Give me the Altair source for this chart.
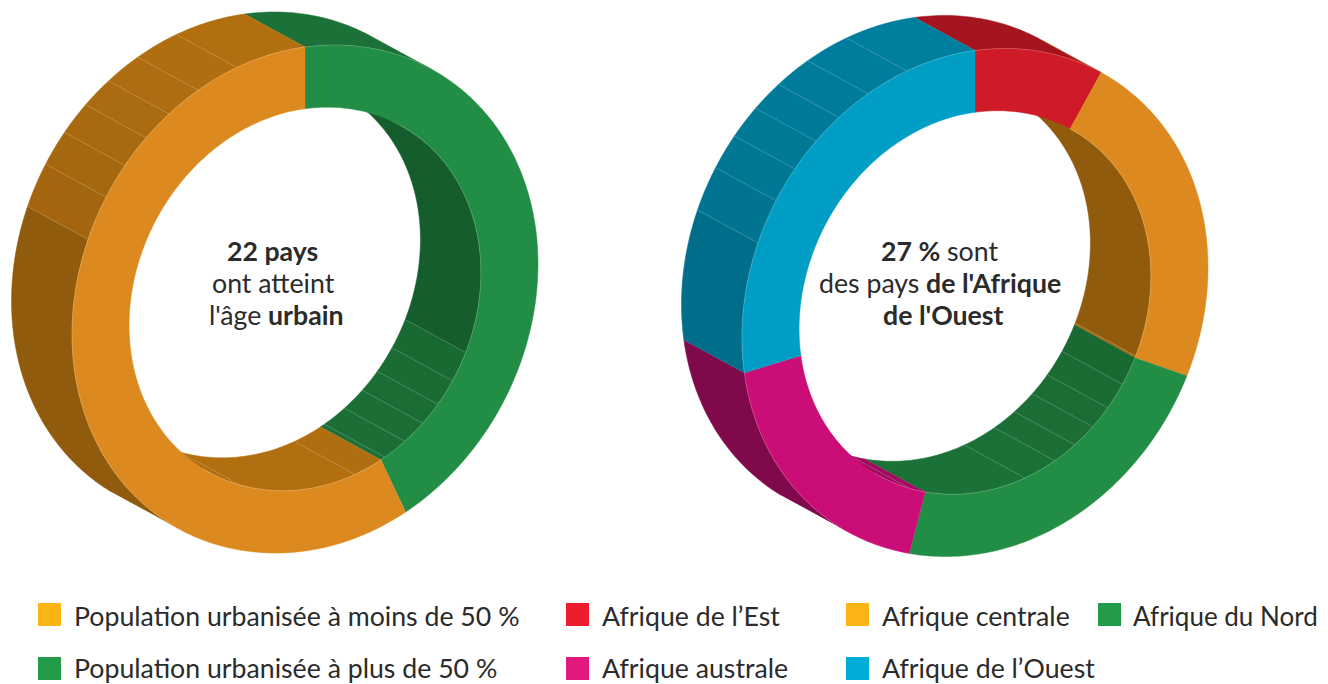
import numpy as np
import pandas as pd
import altair as alt

alt.data_transformers.disable_max_rows()

# ---- data ----
left_labels = ["Population urbanisée à plus de 50 %", "Population urbanisée à moins de 50 %"]
left_values = [22, 29.3]
left_colors = ["#228D45", "#DC8A1F"]
left_walls = ["#228D45", "#DC8A14"]

right_labels = ["Afrique de l’Est", "Afrique centrale", "Afrique du Nord", "Afrique australe", "Afrique de l’Ouest"]
right_values = [2, 5, 5, 4, 6]
right_colors = ["#CF1A27", "#DC8A1F", "#228D45", "#CB0E77", "#009DC4"]
right_walls = ["#CF1A27", "#DC8A14", "#228D45", "#CB0E77", "#009DC4"]

legend_labels = ["Population urbanisée à moins de 50 %", "Population urbanisée à plus de 50 %",
                 "Afrique de l’Est", "Afrique australe", "Afrique centrale", "Afrique de l’Ouest", "Afrique du Nord"]
legend_colors = ["#FDB515", "#239B48", "#ED1C2E", "#E3187F", "#FDB515", "#00ACD8", "#239B48"]
legend_col = [38, 38, 566, 566, 846, 846, 1098]
legend_row = [603, 657, 603, 657, 603, 657, 603]
legend_text_x = [74, 74, 602, 602, 882, 882, 1133]
legend_text_y = [626, 678, 626, 678, 626, 678, 626]
legend_font = [26.7, 26.7, 26.7, 26.7, 26.7, 26.7, 26.0]

center_bold = ["22 pays", "urbain", "27 %", "de l'Afrique", "de l'Ouest"]
center_bold_x = [227, 268, 881, 926, 883]
center_bold_y = [261, 325, 261, 293, 325]
center_light = ["ont atteint", "l'âge", "sont", "des pays"]
center_light_x = [212, 209, 947, 819]
center_light_y = [293, 325, 261, 293]

# ---- geometry of the tilted ring (pixels) ----
AX, QX, QB, RX = 233.0, -31.5, -3.5, 252.0   # map of the unit circle, with a small curve correction
INNER = 0.755
OFFSET = (-60.5, -33.0)
CENTERS = [(305.0, 299.0), (975.0, 302.5)]
TANGENT_A, TANGENT_B = 33.0, 215.0
OUTER_LINES = [-68.6, -58.6, -50.6, -43.0, -35.7, -27.3, -17.0]
INNER_LINES = [114.0, 123.0, 131.0, 138.0, 145.4, 153.0, 163.5, 201.7]


def pt(c, deg, k=1.0, back=False):
    t = np.radians(deg)
    s = np.sin(t)
    x = c[0] + k * AX * s
    y = c[1] + k * (QX * s + QB * s * abs(s) - RX * np.cos(t))
    if back:
        x, y = x + OFFSET[0], y + OFFSET[1]
    return x, y


def arc(a, b, step=1.0):
    n = max(2, int(abs(b - a) / step) + 1)
    return np.linspace(a, b, n)


def shade(hex_color, phi):
    f = 0.69 + 0.115 * np.cos(np.radians(phi))
    rgb = [int(hex_color[i:i + 2], 16) for i in (1, 3, 5)]
    return "#%02x%02x%02x" % tuple(int(round(v * f)) for v in rgb)


faces, walls_out, walls_in, lines, rims = [], [], [], [], []
pid = 0


def add_poly(store, pts, color):
    global pid
    pid += 1
    for i, (x, y) in enumerate(pts):
        store.append(dict(id=pid, i=i, x=x, y=y, c=color))


def build(c, values, colors, wall_colors):
    global pid
    total = sum(values)
    edges = np.concatenate([[0], np.cumsum(values) / total * 360.0])
    for s in range(len(values)):
        a, b = edges[s], edges[s + 1]
        ang = arc(a, b)
        add_poly(faces, [pt(c, d) for d in ang] + [pt(c, d, INNER) for d in ang[::-1]], colors[s])
        for off in (-360, 0, 360):
            lo, hi = max(a + off, TANGENT_B - 360), min(b + off, TANGENT_A)
            if hi > lo:
                brk = sorted({lo, hi, *[v for v in OUTER_LINES if lo < v < hi]})
                for p, q in zip(brk[:-1], brk[1:]):
                    d = arc(p, q)
                    add_poly(walls_out, [pt(c, v) for v in d] + [pt(c, v, back=True) for v in d[::-1]],
                             shade(wall_colors[s], (p + q) / 2))
        lo, hi = max(a, TANGENT_A), min(b, TANGENT_B)
        if hi > lo:
            brk = sorted({lo, hi, *[v for v in INNER_LINES if lo < v < hi]})
            for p, q in zip(brk[:-1], brk[1:]):
                d = arc(p, q)
                add_poly(walls_in, [pt(c, v, INNER) for v in d] + [pt(c, v, INNER, back=True) for v in d[::-1]],
                         shade(wall_colors[s], (p + q) / 2 + 180))
    for v in OUTER_LINES:
        pid += 1
        for i, b in enumerate((False, True)):
            x, y = pt(c, v, back=b)
            lines.append(dict(id=pid, i=i, x=x, y=y))
    for v in INNER_LINES:
        pid += 1
        for i, b in enumerate((False, True)):
            x, y = pt(c, v, INNER, back=b)
            lines.append(dict(id=pid, i=i, x=x, y=y))
    for k, (p, q) in ((1.0, (TANGENT_B, 360 + TANGENT_A)), (INNER, (TANGENT_A, TANGENT_B))):
        pid += 1
        for i, v in enumerate(arc(p, q)):
            x, y = pt(c, v, k)
            rims.append(dict(id=pid, i=i, x=x, y=y))


build(CENTERS[0], left_values, left_colors, left_walls)
build(CENTERS[1], right_values, right_colors, right_walls)

X = alt.X("x:Q", scale=alt.Scale(domain=[8, 1320]), axis=None)
Y = alt.Y("y:Q", scale=alt.Scale(domain=[684, 8]), axis=None)


def poly_layer(rows):
    return alt.Chart(pd.DataFrame(rows)).mark_line(strokeWidth=0.5, interpolate="linear", clip=False).encode(
        x=X, y=Y, detail="id:N", order="i:Q",
        fill=alt.Fill("c:N", scale=None), stroke=alt.Stroke("c:N", scale=None))


def thin_layer(rows, opacity, width):
    return alt.Chart(pd.DataFrame(rows)).mark_line(color="#ffffff", strokeOpacity=opacity, strokeWidth=width).encode(
        x=X, y=Y, detail="id:N", order="i:Q")


legend_df = pd.DataFrame(dict(label=legend_labels, c=legend_colors, x=legend_col, y=legend_row))
legend_df["x2"] = legend_df["x"] + 23
legend_df["y2"] = legend_df["y"] + 23
legend_df["tx"] = legend_text_x
legend_df["ty"] = legend_text_y
legend_df["fs"] = legend_font

squares = alt.Chart(legend_df).mark_rect().encode(
    x=X, x2="x2:Q", y=Y, y2="y2:Q", color=alt.Color("c:N", scale=None))
legend_text = alt.Chart(legend_df).mark_text(
    align="left", baseline="alphabetic", font="Lato", color="#2b2b2b").encode(
    x=alt.X("tx:Q", scale=alt.Scale(domain=[8, 1320]), axis=None),
    y=alt.Y("ty:Q", scale=alt.Scale(domain=[684, 8]), axis=None),
    size=alt.Size("fs:Q", scale=None),
    text="label:N")

bold_df = pd.DataFrame(dict(t=center_bold, x=center_bold_x, y=center_bold_y))
light_df = pd.DataFrame(dict(t=center_light, x=center_light_x, y=center_light_y))
bold = alt.Chart(bold_df).mark_text(align="left", baseline="alphabetic", font="Lato", fontSize=26.7,
                                    fontWeight="bold", color="#2b2b2b").encode(x=X, y=Y, text="t:N")
light = alt.Chart(light_df).mark_text(align="left", baseline="alphabetic", font="Lato", fontSize=26.7,
                                      fontWeight=400, color="#2b2b2b").encode(x=X, y=Y, text="t:N")

chart = alt.layer(
    poly_layer(walls_out), poly_layer(walls_in),
    thin_layer(lines, 0.18, 0.6), poly_layer(faces), thin_layer(rims, 0.3, 0.6),
    squares, legend_text, bold, light
).properties(
    width=1312, height=676, padding=0, autosize=alt.AutoSizeParams(type="none")
).configure_view(stroke=None)

chart.save("out.html", embed_options={"renderer": "svg", "actions": False})
